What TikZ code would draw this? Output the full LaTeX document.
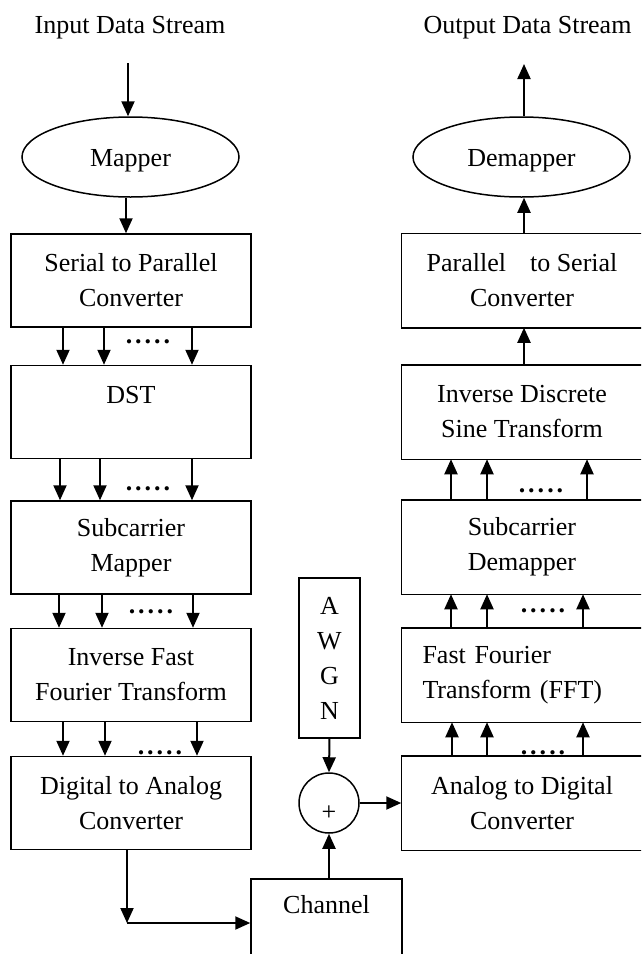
\documentclass[tikz,border=0pt]{standalone}
\usepackage{fontspec}
\setmainfont{Liberation Serif}
\usetikzlibrary{arrows.meta,shapes.geometric,calc}
\newcommand\fivedots{\textbf{.\kern3pt.\kern3pt.\kern3pt.\kern3pt.}}
\newcommand\lowertxt[1]{\raisebox{-4pt}[\height][\depth]{#1}}
\begin{document}
\begin{tikzpicture}[x=1pt,y=-1pt,
  every node/.style={font=\fontsize{26}{35}\selectfont},
  blk/.style={draw, line width=1.5pt, inner sep=0pt, align=center, minimum height=93pt},
  lblk/.style={blk, minimum width=240pt},
  rblk/.style={blk, draw=none, minimum width=240pt},
  openbox/.style={line width=1.5pt},
  oval/.style={draw, ellipse, line width=1.5pt, minimum width=217pt, minimum height=80pt, inner sep=0pt},
  arr/.style={line width=2pt, -{Triangle[length=15pt,width=13pt]}},
  dotrow/.style={anchor=base, inner sep=0pt}
]
\useasboundingbox (0,0) rectangle (641,954);
\clip (0,0) rectangle (641,954);

% titles
\node[anchor=base] (intxt) at (130,33) {Input Data Stream};
\node[anchor=base] (outtxt) at (527.5,33) {Output Data Stream};

% transmitter
\node[oval] (mapper) at (130.5,157) {\lowertxt{Mapper}};
\node[lblk] (s2p) at (131,280.5) {Serial to Parallel\\Converter};
\node[lblk] (dst) at (131,412) {DST\\\mbox{}};
\node[lblk] (scm) at (131,547.5) {Subcarrier\\Mapper};
\node[lblk] (ifft) at (131,675) {Inverse Fast\\Fourier Transform};
\node[lblk] (dac) at (131,803) {Digital to Analog\\Converter};

% receiver (boxes run past the right edge of the picture)
\node[oval] (demapper) at (521.5,157) {\lowertxt{Demapper}};
\node[rblk] (p2s) at (522,280.5) {Parallel\hspace{24pt}to Serial\\Converter};
\node[rblk] (idst) at (522,412) {Inverse Discrete\\Sine Transform};
\node[rblk] (scd) at (522,547) {Subcarrier\\Demapper};
\node[rblk, text width=199pt, align=left, inner xsep=20.5pt] (fft) at (522,675) {Fast Fourier\\Transform (FFT)};
\node[rblk] (adc) at (522,803) {Analog to Digital\\Converter};
\foreach \n in {p2s,idst,scd,fft,adc}
  \draw[openbox] ([xshift=30pt]\n.north east) -- (\n.north west) -- (\n.south west) -- ([xshift=30pt]\n.south east);

% channel part
\node[draw, line width=1.5pt, minimum width=61pt, minimum height=160pt, inner sep=0pt, align=center] (awgn) at (329.5,658) {A\\W\\G\\N};
\node[draw, circle, line width=1.5pt, minimum size=60pt, inner sep=0pt] (sum) at (329,803) {\raisebox{-17pt}[0pt][0pt]{+}};
\node[draw, line width=1.5pt, minimum width=151pt, minimum height=120pt, anchor=north, inner sep=0pt] (chan) at (326.5,878) {};
\node[anchor=base] (chantxt) at ($(chan.north)+(0,35)$) {Channel};

% single arrows
\coordinate (inA) at (128,63);
\draw[arr] (inA) -- (inA |- mapper.north);
\draw[arr] (mapper.south -| 126,0) -- (s2p.north -| 126,0);
\coordinate (outA) at (524,64);
\draw[arr] (demapper.north -| outA) -- (outA);
\draw[arr] (p2s.north -| outA) -- (demapper.south -| outA);
\draw[arr] (idst.north -| outA) -- (p2s.south -| outA);

% parallel arrows (transmitter)
\foreach \x in {63,104,192} \draw[arr] (s2p.south -| \x,0) -- (dst.north -| \x,0);
\node[dotrow] (d1) at (148,343) {\fivedots};
\foreach \x in {60,100,192} \draw[arr] (dst.south -| \x,0) -- (scm.north -| \x,0);
\node[dotrow] (d2) at (148,490) {\fivedots};
\foreach \x in {59,102,193} \draw[arr] (scm.south -| \x,0) -- (ifft.north -| \x,0);
\node[dotrow] (d3) at (151,613) {\fivedots};
\foreach \x in {63,105,197} \draw[arr] (ifft.south -| \x,0) -- (dac.north -| \x,0);
\node[dotrow] (d4) at (160,754) {\fivedots};

% parallel arrows (receiver)
\foreach \x in {451,487,587} \draw[arr] (scd.north -| \x,0) -- (idst.south -| \x,0);
\node[dotrow] (d5) at (541,492) {\fivedots};
\foreach \x in {451,487,583} \draw[arr] (fft.north -| \x,0) -- (scd.south -| \x,0);
\node[dotrow] (d6) at (543,612) {\fivedots};
\foreach \x in {452,487,583} \draw[arr] (adc.north -| \x,0) -- (fft.south -| \x,0);
\node[dotrow] (d7) at (543,754) {\fivedots};

% channel connections
\coordinate (corner) at (127,923);
\draw[arr] (dac.south -| corner) -- (corner);
\draw[arr] (corner) -- (corner -| chan.west);
\draw[arr] (awgn.south) -- (sum.north);
\draw[arr] (sum.south |- chan.north) -- (sum.south);
\draw[arr] (sum.east) -- (adc.west);
\end{tikzpicture}
\end{document}
